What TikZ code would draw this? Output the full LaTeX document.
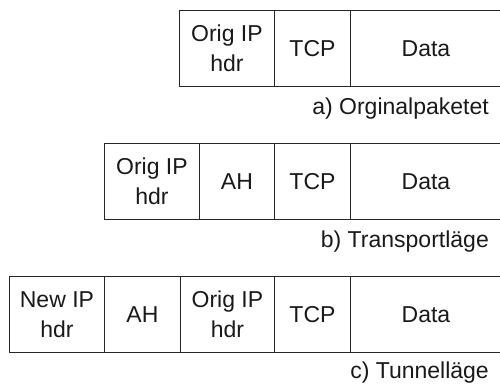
\documentclass[tikz,border=0pt]{standalone}
\usepackage{fontspec}
\setmainfont{Liberation Sans}
\begin{document}
\begin{tikzpicture}[x=1pt,y=-1pt,
  txt/.style={font=\fontsize{23}{30}\selectfont, text=black!90},
  cell/.style={txt, draw=black!85, line width=0.9pt, minimum height=76pt,
    inner sep=0pt, anchor=north west, align=center, minimum width=#1},
  caption/.style={txt, anchor=base east, inner sep=0pt}]
\useasboundingbox (0,0) rectangle (500,383);

% a) original packet
\node[cell=95pt]  (a1) at (179,10) {Orig IP\\hdr};
\node[cell=76pt]  (a2) at (274,10) {TCP};
\node[cell=151pt] (a3) at (350,10) {Data};
\node[caption]    (ca) at (489,114) {a) Orginalpaketet};

% b) transport mode
\node[cell=95pt]  (b1) at (104,143) {Orig IP\\hdr};
\node[cell=75pt]  (b2) at (199,143) {AH};
\node[cell=76pt]  (b3) at (274,143) {TCP};
\node[cell=151pt] (b4) at (350,143) {Data};
\node[caption]    (cb) at (489,247) {b) Transportläge};

% c) tunnel mode
\node[cell=95pt]  (c1) at (9,276) {New IP\\hdr};
\node[cell=76pt]  (c2) at (104,276) {AH};
\node[cell=94pt]  (c3) at (180,276) {Orig IP\\hdr};
\node[cell=76pt]  (c4) at (274,276) {TCP};
\node[cell=151pt] (c5) at (350,276) {Data};
\node[caption]    (cc) at (489,378) {c) Tunnelläge};
\end{tikzpicture}
\end{document}
